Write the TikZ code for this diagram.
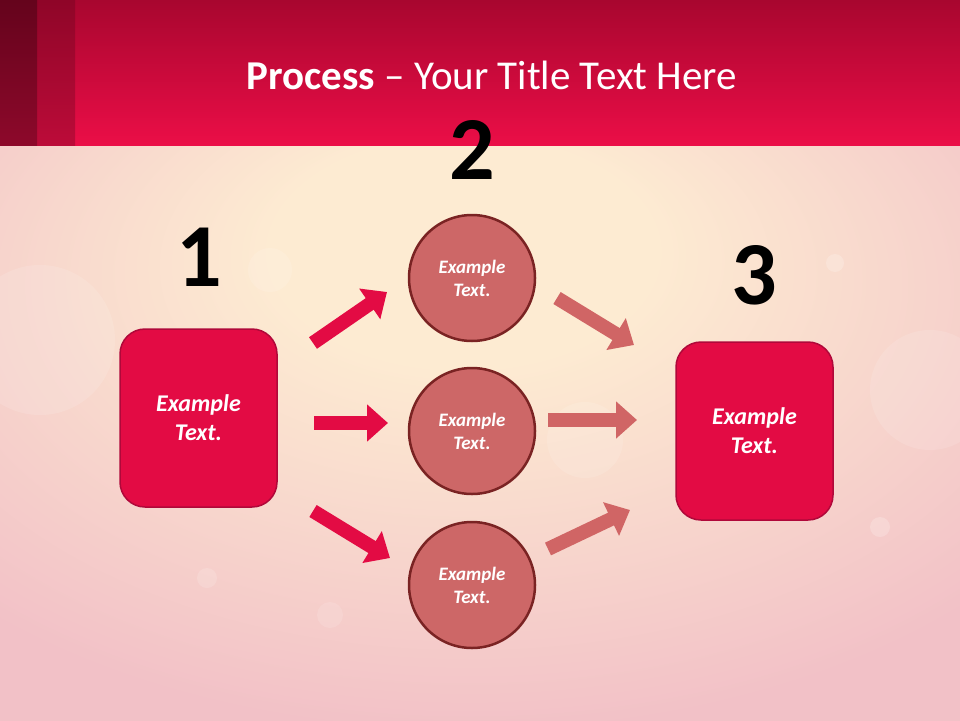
\documentclass[tikz,border=0pt]{standalone}
\usepackage{fontspec}
\setmainfont{Carlito}
\usetikzlibrary{arrows.meta}
\definecolor{hdtop}{HTML}{A8062F}
\definecolor{hdbot}{HTML}{EB0E47}
\definecolor{bgpink}{HTML}{F2C1C7}
\definecolor{bgcream}{HTML}{FDEBD2}
\definecolor{boxred}{HTML}{E30B44}
\definecolor{boxline}{HTML}{B0083A}
\definecolor{ringfill}{HTML}{CD6767}
\definecolor{ringline}{HTML}{7A2323}
\definecolor{arrowrose}{HTML}{D06565}
\pgfdeclareradialshading{softglow}{\pgfpoint{-1bp}{18bp}}{color(0bp)=(bgcream);
  color(10bp)=(bgcream); color(36bp)=(bgpink); color(80bp)=(bgpink)}

\tikzset{
  stepbox/.style={draw=boxline,line width=1.5pt,fill=boxred,rounded corners=25pt,
    minimum width=157pt,minimum height=178pt,align=center,text=white,
    font=\fontsize{24}{29}\selectfont\bfseries\itshape},
  ring/.style={draw=ringline,line width=2.5pt,fill=ringfill,circle,minimum size=126pt,
    inner sep=0pt,align=center,text=white,font=\fontsize{19}{23}\selectfont\bfseries\itshape},
  bignum/.style={font=\fontsize{90}{90}\selectfont\bfseries,text=black,inner sep=0pt},
  fat/.style={line width=14pt,-{Triangle[width=36pt,length=21pt]},draw=#1,color=#1},
  glow/.style={fill=white,opacity=#1},
}

\begin{document}
\begin{tikzpicture}[x=1pt,y=-1pt]
  \useasboundingbox (0,0) rectangle (960,720);
  % background
  \shade[shading=softglow] (0,145) rectangle (960,720);
  \foreach \px/\py/\r/\o in {40/340/75/0.12,270/270/22/0.12,835/263/9/0.2,880/527/10/0.2,
      207/578/10/0.15,585/440/38/0.12,930/390/60/0.12,330/615/13/0.12}{
    \fill[glow=\o] (\px,\py) circle (\r);
  }
  % header band
  \shade[top color=hdtop,bottom color=hdbot] (0,0) rectangle (960,145);
  \shade[top color=hdtop!85!black,bottom color=hdbot!80!black] (0,0) rectangle (75,145);
  \shade[top color=hdtop!60!black,bottom color=hdbot!60!black] (0,0) rectangle (37,145);
  \node[text=white,font=\fontsize{41}{50}\selectfont] (title) at (492,75)
    {\textbf{Process} -- Your Title Text Here};

  % stages
  \node[stepbox] (S-1) at (198.5,418) {Example\\Text.};
  \node[stepbox] (S-3) at (754.5,431) {Example\\Text.};
  \foreach \number/\y in {1/278,2/431,3/585}{
    \node[ring] (C-\number) at (472,\y) {Example\\Text.};
  }
  \node[bignum] (N-1) at (199,257) {1};
  \node[bignum] (N-2) at (472,150) {2};
  \node[bignum] (N-3) at (754,275) {3};

  % arrows
  \foreach \number/\sx/\sy/\ex/\ey/\col in {1/313/343/387/292/boxred,2/314/423/388/423/boxred,
      3/313/511/390/558/boxred,4/557/298/634/345/arrowrose,5/548/420/637/420/arrowrose,
      6/548/549/630/510/arrowrose}{
    \coordinate (A-\number s) at (\sx,\sy);
    \coordinate (A-\number e) at (\ex,\ey);
    \draw[fat=\col] (A-\number s) -- (A-\number e);
  }
\end{tikzpicture}
\end{document}
